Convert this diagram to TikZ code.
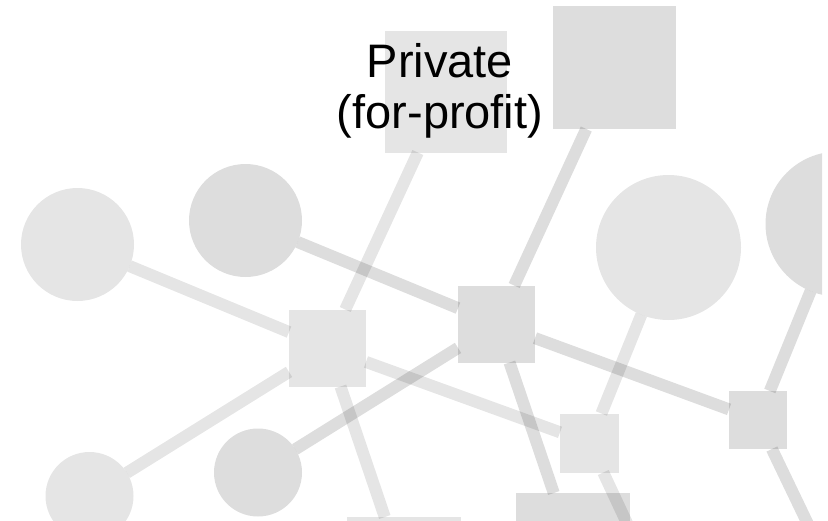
\documentclass[tikz,border=0pt]{standalone}
\usepackage{fontspec}
\setmainfont{Liberation Sans}
\tikzset{lightbox/.style={%
        rectangle,
        inner sep=0pt,
        outer sep=0pt,
        fill=black,
        fill opacity=0.1
    },
    darkbox/.style={%
        rectangle,
        inner sep=0pt,
        outer sep=0pt,
        fill=black,
        fill opacity=0.135
    },
    lightdot/.style={%
        circle,
        inner sep=0pt,
        outer sep=0pt,
        fill=black,
        fill opacity=0.1
    },
    darkdot/.style={%
        circle,
        inner sep=0pt,
        outer sep=0pt,
        fill=black,
        fill opacity=0.135
    },
    lightlink/.style={line width=12pt, draw=black, draw opacity=0.1},
    darklink/.style={line width=12pt, draw=black, draw opacity=0.135},
    caption/.style={align=center, inner sep=0pt, font=\fontsize{47}{51}\selectfont}
}
\begin{document}
\begin{tikzpicture}[x=1pt,y=-1pt]
    \useasboundingbox (0,0) rectangle (828,520);
    \clip (0,0) rectangle (822,520);
    \node [lightbox, minimum size=122pt] (P) at (446,91.5) {};
    \node [darkbox, minimum size=123pt] (Q) at (614.5,67.5) {};
    \node [lightdot, minimum size=113pt] (C1) at (77.5,244.5) {};
    \node [darkdot, minimum size=113pt] (C2) at (245.5,220.5) {};
    \node [lightdot, minimum size=145pt] (C3) at (668.5,247.5) {};
    \node [darkdot, minimum size=145pt] (C4) at (838,224) {};
    \node [lightdot, minimum size=88pt] (C5) at (89.5,496) {};
    \node [darkdot, minimum size=88pt] (C6) at (258,472.5) {};
    \node [lightbox, minimum size=77pt] (D) at (327.5,348) {};
    \node [darkbox, minimum size=77pt] (E) at (496.5,324) {};
    \node [lightbox, minimum size=59pt] (F) at (589.5,443) {};
    \node [darkbox, minimum size=58pt] (G) at (758,420) {};
    \node [darkbox, minimum size=114pt] (H) at (573,550) {};
    \node [lightbox, minimum size=114pt] (I) at (404,574) {};
    \coordinate (Fout) at (683,643);
    \coordinate (Gout) at (854,620);
    \node [caption] (label) at (440,90.5) {Private\\(for-profit)};
    \path[lightlink] (C1) edge (D);
    \path[lightlink] (C5) edge (D);
    \path[lightlink] (P) edge (D);
    \path[lightlink] (D) edge (I);
    \path[lightlink] (D) edge (F);
    \path[lightlink] (C3) edge (F);
    \path[lightlink] (F) edge (Fout);
    \path[darklink] (C2) edge (E);
    \path[darklink] (C6) edge (E);
    \path[darklink] (Q) edge (E);
    \path[darklink] (E) edge (H);
    \path[darklink] (E) edge (G);
    \path[darklink] (C4) edge (G);
    \path[darklink] (G) edge (Gout);
\end{tikzpicture}
\end{document}
